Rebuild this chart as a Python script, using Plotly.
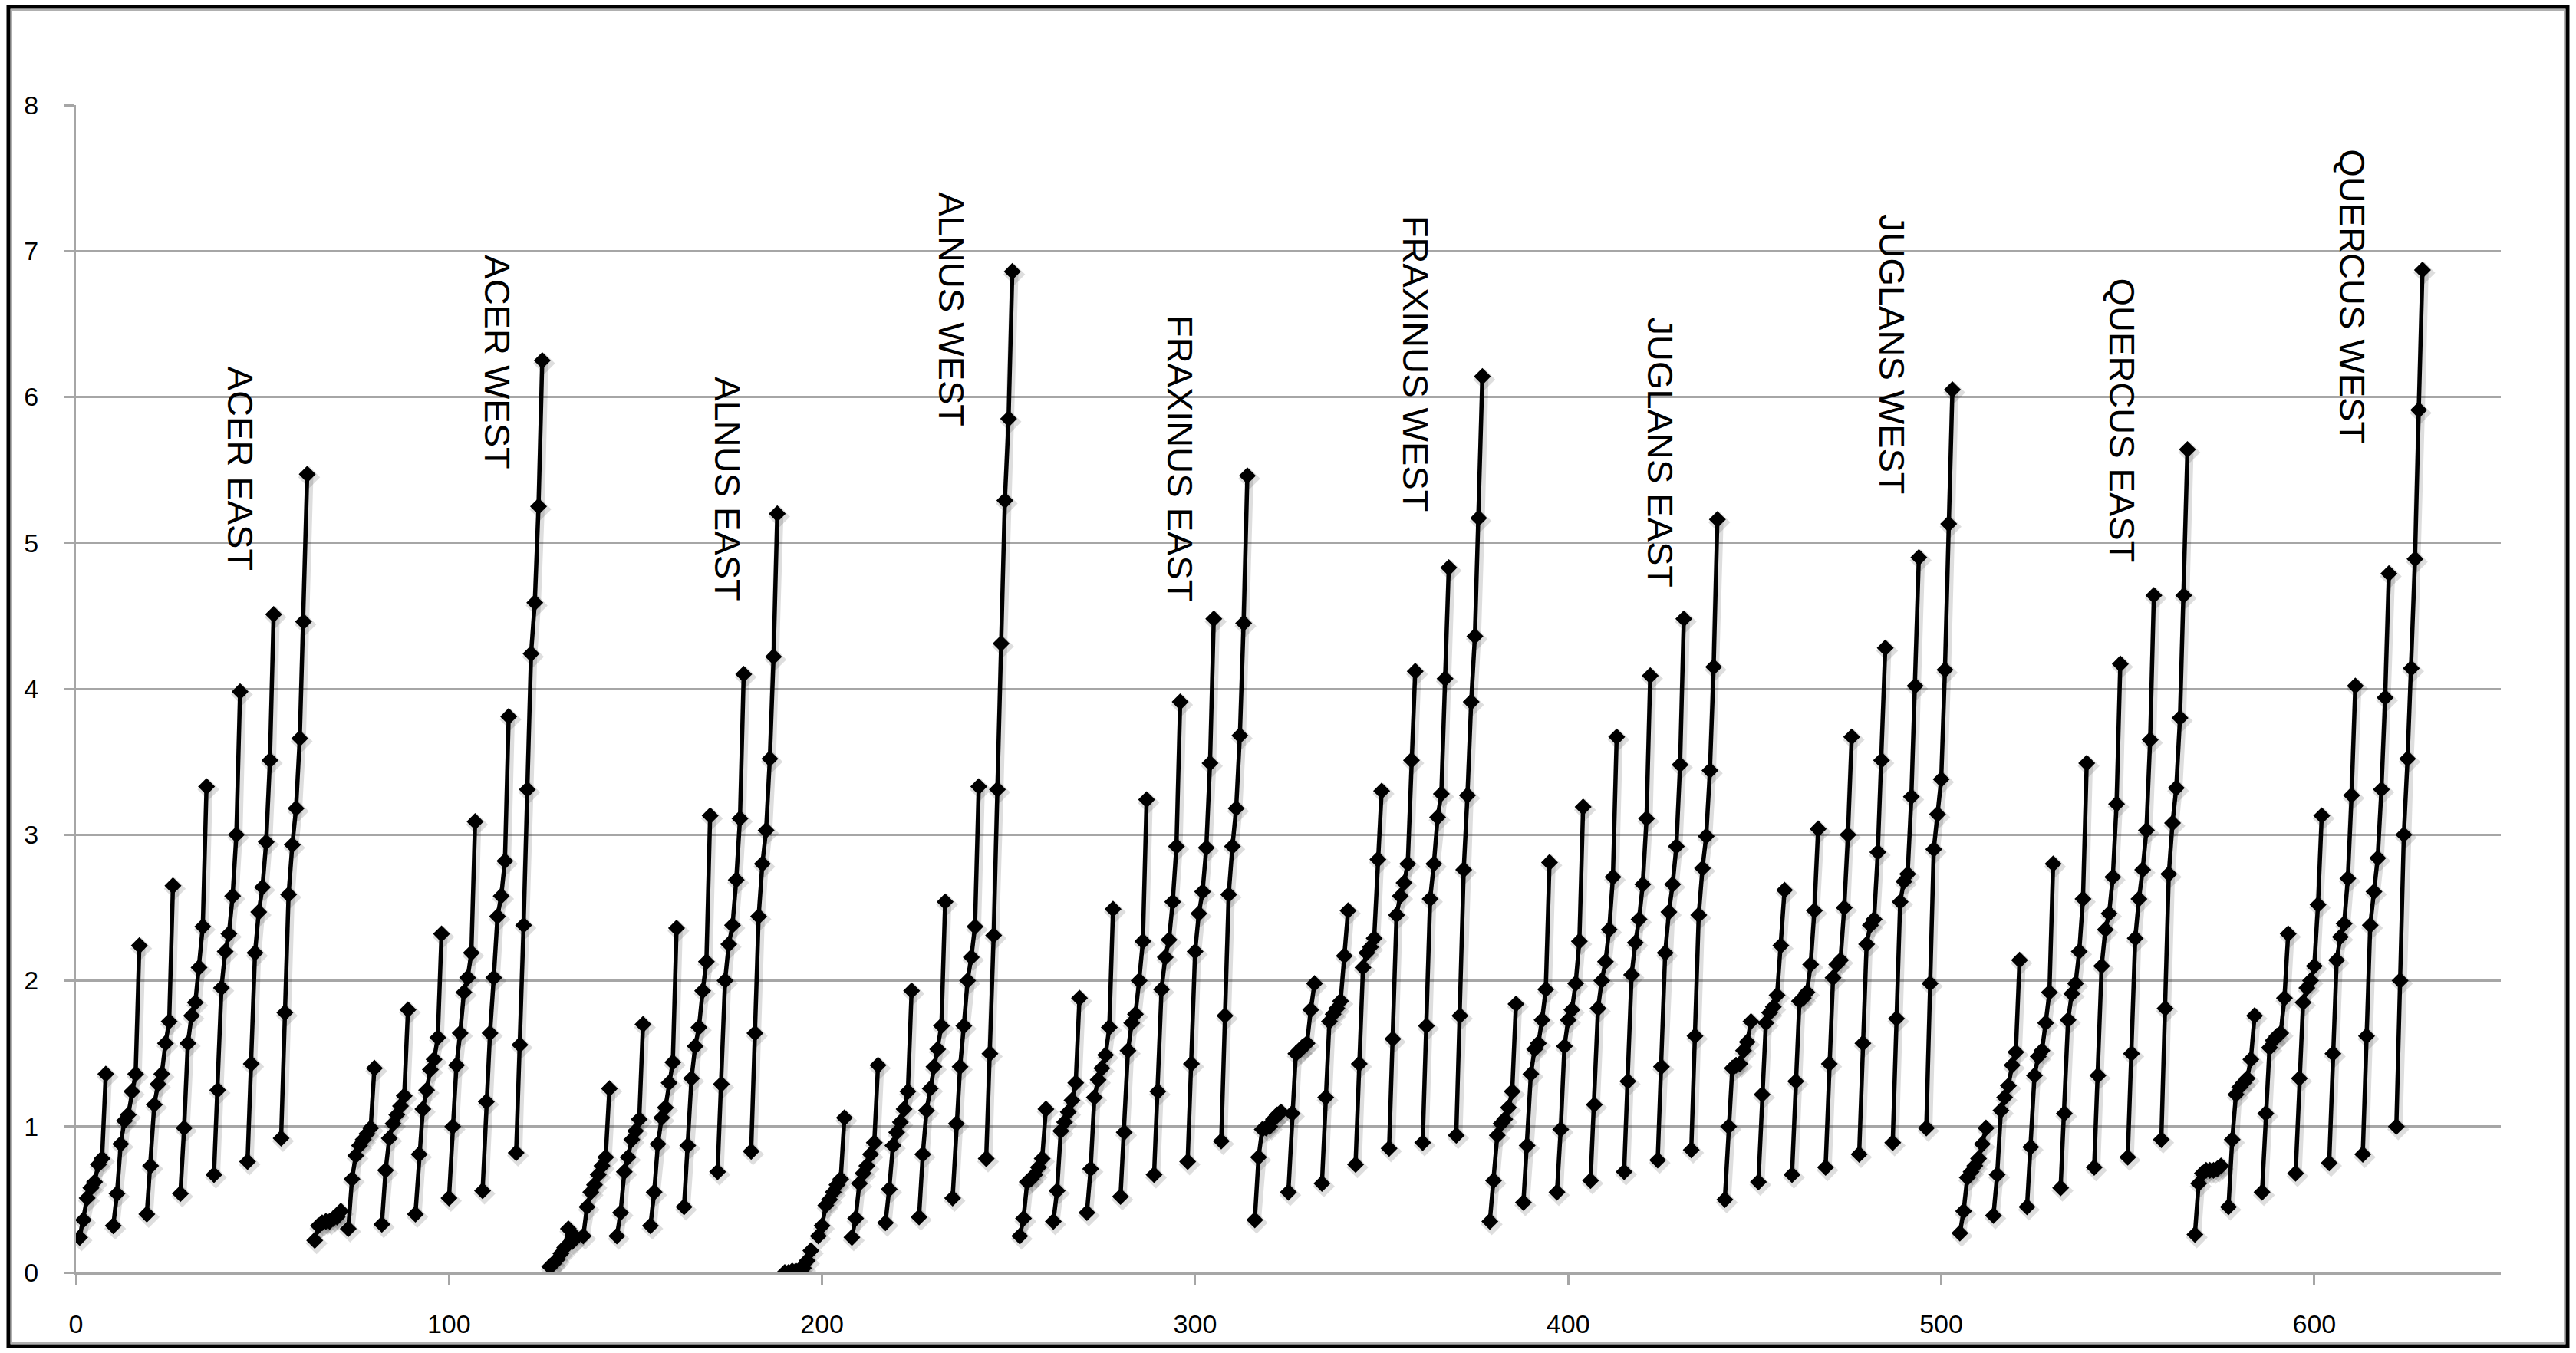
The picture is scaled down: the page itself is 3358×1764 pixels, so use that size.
import plotly.graph_objects as go

# ---- data: each group = 7 series of 8 points ----
group_names = ["ACER EAST", "ACER WEST", "ALNUS EAST", "ALNUS WEST",
               "FRAXINUS EAST", "FRAXINUS WEST", "JUGLANS EAST", "JUGLANS WEST",
               "QUERCUS EAST", "QUERCUS WEST"]

acer_east = [0.24, 0.36, 0.51, 0.58, 0.62, 0.74, 0.78, 1.36,
             0.32, 0.54, 0.88, 1.04, 1.08, 1.24, 1.36, 2.24,
             0.40, 0.73, 1.15, 1.29, 1.36, 1.57, 1.72, 2.65,
             0.54, 0.99, 1.57, 1.76, 1.85, 2.09, 2.37, 3.33,
             0.67, 1.25, 1.95, 2.20, 2.32, 2.58, 3.00, 3.98,
             0.76, 1.43, 2.19, 2.47, 2.64, 2.95, 3.51, 4.51,
             0.92, 1.78, 2.59, 2.93, 3.18, 3.66, 4.46, 5.47]
acer_west = [0.22, 0.32, 0.34, 0.35, 0.35, 0.37, 0.38, 0.42,
             0.30, 0.64, 0.80, 0.87, 0.91, 0.95, 0.99, 1.40,
             0.33, 0.70, 0.92, 1.02, 1.08, 1.14, 1.21, 1.80,
             0.40, 0.81, 1.12, 1.25, 1.39, 1.46, 1.61, 2.32,
             0.51, 1.00, 1.42, 1.64, 1.92, 2.02, 2.19, 3.09,
             0.56, 1.17, 1.64, 2.02, 2.44, 2.58, 2.82, 3.81,
             0.82, 1.56, 2.38, 3.31, 4.24, 4.59, 5.25, 6.25]
alnus_east = [0.04, 0.06, 0.09, 0.13, 0.17, 0.30, 0.21, 0.24,
              0.25, 0.45, 0.55, 0.60, 0.67, 0.73, 0.79, 1.26,
              0.25, 0.41, 0.69, 0.79, 0.91, 0.97, 1.05, 1.70,
              0.32, 0.55, 0.88, 1.06, 1.13, 1.30, 1.44, 2.36,
              0.45, 0.87, 1.33, 1.55, 1.68, 1.93, 2.13, 3.13,
              0.69, 1.29, 2.00, 2.25, 2.38, 2.69, 3.11, 4.10,
              0.83, 1.64, 2.44, 2.80, 3.03, 3.52, 4.22, 5.20]
alnus_west = [0.00, 0.00, 0.01, 0.01, 0.02, 0.03, 0.08, 0.15,
              0.25, 0.32, 0.46, 0.50, 0.55, 0.60, 0.64, 1.06,
              0.24, 0.37, 0.61, 0.68, 0.73, 0.81, 0.89, 1.42,
              0.34, 0.57, 0.87, 0.96, 1.03, 1.12, 1.24, 1.93,
              0.38, 0.81, 1.11, 1.26, 1.41, 1.53, 1.69, 2.54,
              0.51, 1.02, 1.41, 1.69, 2.00, 2.16, 2.37, 3.33,
              0.78, 1.50, 2.31, 3.31, 4.31, 5.29, 5.85, 6.86]
fraxinus_east = [0.25, 0.37, 0.62, 0.64, 0.67, 0.72, 0.78, 1.12,
                 0.35, 0.56, 0.97, 1.03, 1.10, 1.18, 1.30, 1.88,
                 0.41, 0.71, 1.20, 1.32, 1.40, 1.49, 1.68, 2.49,
                 0.52, 0.96, 1.52, 1.71, 1.77, 2.00, 2.27, 3.24,
                 0.67, 1.24, 1.94, 2.16, 2.28, 2.54, 2.92, 3.91,
                 0.76, 1.43, 2.20, 2.46, 2.61, 2.91, 3.49, 4.48,
                 0.90, 1.76, 2.59, 2.92, 3.18, 3.68, 4.45, 5.46]
fraxinus_west = [0.36, 0.79, 0.98, 0.99, 1.00, 1.05, 1.08, 1.10,
                 0.55, 1.09, 1.50, 1.52, 1.55, 1.57, 1.80, 1.98,
                 0.61, 1.20, 1.72, 1.77, 1.81, 1.86, 2.17, 2.48,
                 0.74, 1.43, 2.09, 2.19, 2.23, 2.29, 2.83, 3.30,
                 0.85, 1.60, 2.45, 2.58, 2.67, 2.80, 3.51, 4.12,
                 0.89, 1.69, 2.56, 2.80, 3.12, 3.28, 4.07, 4.83,
                 0.94, 1.76, 2.76, 3.27, 3.91, 4.36, 5.17, 6.14]
juglans_east = [0.35, 0.63, 0.94, 1.02, 1.05, 1.13, 1.24, 1.84,
                0.48, 0.87, 1.36, 1.53, 1.57, 1.73, 1.94, 2.81,
                0.55, 0.98, 1.55, 1.73, 1.80, 1.98, 2.27, 3.19,
                0.63, 1.15, 1.81, 2.00, 2.13, 2.35, 2.71, 3.67,
                0.69, 1.31, 2.04, 2.26, 2.42, 2.66, 3.11, 4.09,
                0.77, 1.41, 2.19, 2.47, 2.66, 2.92, 3.48, 4.48,
                0.84, 1.62, 2.45, 2.77, 2.99, 3.44, 4.15, 5.16]
juglans_west = [0.50, 1.00, 1.40, 1.42, 1.43, 1.52, 1.58, 1.72,
                0.62, 1.22, 1.71, 1.78, 1.82, 1.90, 2.24, 2.62,
                0.67, 1.31, 1.86, 1.88, 1.92, 2.11, 2.48, 3.04,
                0.72, 1.43, 2.02, 2.11, 2.14, 2.50, 3.00, 3.67,
                0.81, 1.57, 2.25, 2.38, 2.42, 2.88, 3.51, 4.28,
                0.89, 1.74, 2.54, 2.68, 2.73, 3.26, 4.02, 4.90,
                0.99, 1.98, 2.90, 3.14, 3.38, 4.13, 5.13, 6.05]
quercus_east = [0.27, 0.42, 0.65, 0.69, 0.73, 0.78, 0.88, 0.99,
                0.39, 0.67, 1.11, 1.20, 1.28, 1.42, 1.51, 2.14,
                0.45, 0.86, 1.35, 1.48, 1.52, 1.71, 1.92, 2.80,
                0.58, 1.09, 1.73, 1.91, 1.98, 2.20, 2.56, 3.49,
                0.72, 1.35, 2.10, 2.35, 2.46, 2.71, 3.21, 4.17,
                0.79, 1.50, 2.29, 2.56, 2.76, 3.03, 3.65, 4.64,
                0.91, 1.81, 2.73, 3.08, 3.32, 3.80, 4.64, 5.64]
quercus_west = [0.26, 0.61, 0.68, 0.70, 0.70, 0.70, 0.71, 0.73,
                0.45, 0.91, 1.22, 1.27, 1.30, 1.33, 1.46, 1.76,
                0.55, 1.09, 1.54, 1.59, 1.62, 1.64, 1.88, 2.32,
                0.68, 1.33, 1.85, 1.95, 2.00, 2.10, 2.52, 3.13,
                0.75, 1.50, 2.14, 2.30, 2.39, 2.70, 3.27, 4.02,
                0.81, 1.62, 2.38, 2.61, 2.84, 3.31, 3.94, 4.79,
                1.00, 2.00, 3.00, 3.52, 4.14, 4.89, 5.91, 6.87]

groups = [acer_east, acer_west, alnus_east, alnus_west, fraxinus_east,
          fraxinus_west, juglans_east, juglans_west, quercus_east, quercus_west]

x_ticks = [0, 100, 200, 300, 400, 500, 600]
y_ticks = [0, 1, 2, 3, 4, 5, 6, 7, 8]

# label anchor positions (data coordinates)
label_x = [44.0, 113.0, 174.8, 234.8, 296.0, 359.0, 424.7, 486.8, 548.5, 610.3]
label_y = [5.51, 6.24, 5.37, 6.60, 5.58, 6.23, 5.62, 6.29, 5.84, 6.69]

PTS = 8  # points per series
# ---- build x/y with gaps between series ----
xs, ys = [], []
idx = 1
for g in groups:
    for k in range(0, len(g), PTS):
        for v in g[k:k + PTS]:
            xs.append(idx)
            ys.append(v)
            idx += 1
        xs.append(idx)
        ys.append(None)
        idx += 1

fig = go.Figure()
fig.add_trace(go.Scatter(
    x=[None if x is None else x + 0.5 for x in xs],
    y=[None if y is None else y - 0.02 for y in ys],
    mode="lines+markers", connectgaps=False, hoverinfo="skip",
    line=dict(color="rgba(0,0,0,0.13)", width=11),
    marker=dict(symbol="diamond", size=22, color="rgba(0,0,0,0.13)"),
    showlegend=False))
fig.add_trace(go.Scatter(
    x=xs, y=ys, mode="lines+markers", connectgaps=False,
    line=dict(color="black", width=5.5),
    marker=dict(symbol="diamond", size=17, color="black"),
    showlegend=False))

GRID = "#a6a6a6"
W, H = 3358, 1764
L, R, T, B = 99, 98, 137, 105

fig.update_layout(
    width=W, height=H,
    margin=dict(l=L, r=R, t=T, b=B, pad=0),
    paper_bgcolor="white", plot_bgcolor="white",
    font=dict(family="Liberation Sans, Arial, sans-serif", size=34, color="black"),
    xaxis=dict(range=[0, 650], tickvals=x_ticks, ticktext=[str(v) for v in x_ticks],
               showgrid=False, zeroline=False, showline=True, linecolor=GRID,
               linewidth=3, ticks="outside", ticklen=13, tickwidth=3,
               tickcolor=GRID, ticklabelstandoff=22),
    yaxis=dict(range=[0, 8], tickvals=y_ticks, ticktext=[str(v) for v in y_ticks],
               showgrid=True, gridcolor=GRID, gridwidth=3, zeroline=False,
               showline=True, linecolor=GRID, linewidth=3, ticks="outside",
               ticklen=13, tickwidth=3, tickcolor=GRID, ticklabelstandoff=26),
)

for name, lx, ly in zip(group_names, label_x, label_y):
    fig.add_annotation(x=lx, y=ly, text=name, textangle=90, showarrow=False,
                       xanchor="center", yanchor="middle",
                       font=dict(family="Liberation Sans Narrow, Arial Narrow, Liberation Sans",
                                 size=47, color="black"))

# outer chart frame
pw, ph = W - L - R, H - T - B
fig.add_shape(type="rect", xref="paper", yref="paper",
              x0=(11 - L) / pw, x1=(W - 11 - L) / pw,
              y0=-(H - 9 - (H - B)) / ph, y1=(H - B - 9) / ph,
              line=dict(color="black", width=5), fillcolor="rgba(0,0,0,0)", layer="above")
fig.add_shape(type="rect", xref="paper", yref="paper",
              x0=(15 - L) / pw, x1=(W - 15 - L) / pw,
              y0=-(H - 13 - (H - B)) / ph, y1=(H - B - 13) / ph,
              line=dict(color="#b0b0b0", width=2), fillcolor="rgba(0,0,0,0)", layer="above")

fig.write_html("out.html", config={"displayModeBar": False},
               post_script="document.body.style.margin='0';")
